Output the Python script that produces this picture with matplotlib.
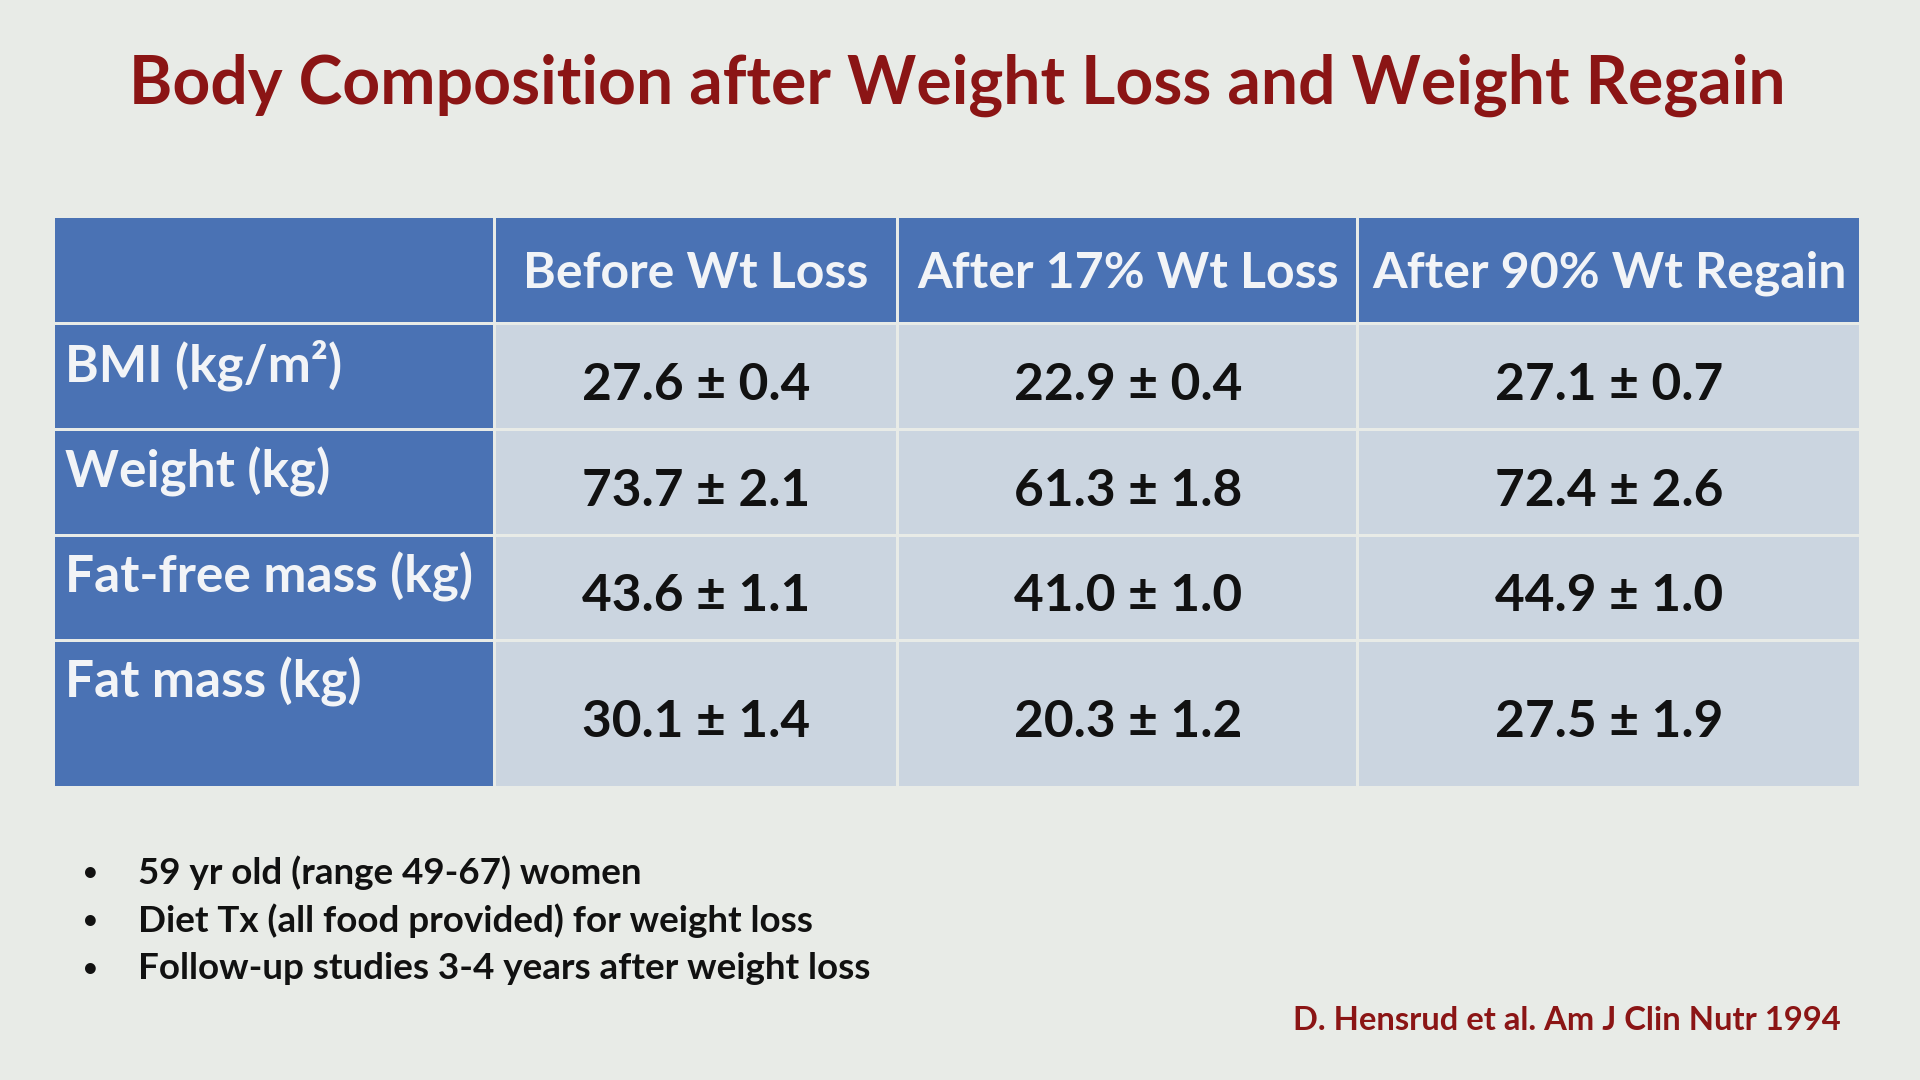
import matplotlib
matplotlib.use('Agg')
import matplotlib.pyplot as plt
from matplotlib.patches import Rectangle

# ---- data ----
title = "Body Composition after Weight Loss and Weight Regain"
col_headers = ["Before Wt Loss", "After 17% Wt Loss", "After 90% Wt Regain"]
row_labels = ["BMI (kg/m²)", "Weight (kg)", "Fat-free mass (kg)", "Fat mass (kg)"]
before_mean = [27.6, 73.7, 43.6, 30.1]
before_sem = [0.4, 2.1, 1.1, 1.4]
loss_mean = [22.9, 61.3, 41.0, 20.3]
loss_sem = [0.4, 1.8, 1.0, 1.2]
regain_mean = [27.1, 72.4, 44.9, 27.5]
regain_sem = [0.7, 2.6, 1.0, 1.9]
bullets = [
    "59 yr old (range 49-67) women",
    "Diet Tx (all food provided) for weight loss",
    "Follow-up studies 3-4 years after weight loss",
]
citation = "D. Hensrud et al. Am J Clin Nutr 1994"

# ---- style ----
BG = '#E8EBE7'
BLUE = '#4A72B4'
CELL = '#CBD5E0'
RED = '#8B1515'
INK = '#111111'
FONT = ['Lato', 'DejaVu Sans']

plt.rcParams['font.family'] = FONT

fig = plt.figure(figsize=(19.2, 10.8), dpi=100, facecolor=BG)
ax = fig.add_axes([0, 0, 1, 1])
ax.set_xlim(0, 1568)
ax.set_ylim(882, 0)
ax.axis('off')

# layout (slide units, 1568 x 882)
col_edges = [44, 404, 733, 1109, 1519]
row_edges = [177, 264, 351, 437, 523, 643]
gap = 1.2

ax.text(782, 70, title, ha='center', va='center', fontsize=47.5,
        fontweight='bold', color=RED)

cols = [(before_mean, before_sem), (loss_mean, loss_sem), (regain_mean, regain_sem)]

n_rows = len(row_labels) + 1
n_cols = len(col_headers) + 1
for r in range(n_rows):
    for c in range(n_cols):
        x0, x1 = col_edges[c], col_edges[c + 1]
        y0, y1 = row_edges[r], row_edges[r + 1]
        fc = BLUE if (r == 0 or c == 0) else CELL
        ax.add_patch(Rectangle((x0 + gap, y0 + gap), x1 - x0 - 2 * gap,
                               y1 - y0 - 2 * gap, facecolor=fc,
                               edgecolor='none'))

# header texts
for c, h in enumerate(col_headers):
    xc = (col_edges[c + 1] + col_edges[c + 2]) / 2
    yc = (row_edges[0] + row_edges[1]) / 2
    ax.text(xc, yc + 3, h, ha='center', va='center', fontsize=36,
            fontweight='bold', color='#F2F4F7')

# row labels + values
for r, lab in enumerate(row_labels):
    y0, y1 = row_edges[r + 1], row_edges[r + 2]
    ax.text(53, y0 + 34, lab, ha='left', va='center', fontsize=37,
            fontweight='bold', color='#F2F4F7')
    for c, (means, sems) in enumerate(cols):
        xc = (col_edges[c + 1] + col_edges[c + 2]) / 2
        ax.text(xc, (y0 + y1) / 2 + 7, f"{means[r]:.1f} ± {sems[r]:.1f}",
                ha='center', va='center', fontsize=37, fontweight='bold',
                color=INK)

# bullets
for i, b in enumerate(bullets):
    y = 713 + 39 * i
    ax.text(74, y, "•", ha='center', va='center', fontsize=21,
            color=INK)
    ax.text(113, y, b, ha='left', va='center', fontsize=26.5,
            fontweight='bold', color=INK)

ax.text(1503, 833, citation, ha='right', va='center', fontsize=23.6,
        fontweight='bold', color=RED)

fig.savefig('out.png', dpi=100, facecolor=BG)
